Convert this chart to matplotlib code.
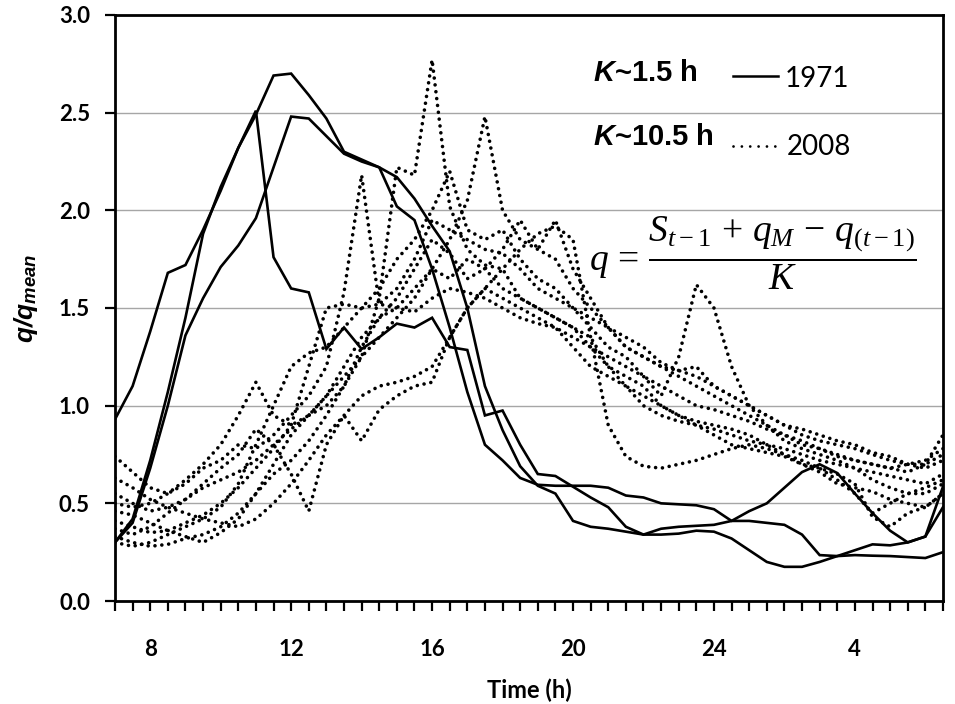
import numpy as np
import matplotlib
matplotlib.use("Agg")
import matplotlib.pyplot as plt
from matplotlib.lines import Line2D

plt.rcParams["mathtext.fontset"] = "custom"
plt.rcParams["mathtext.rm"] = "Liberation Serif"
plt.rcParams["mathtext.it"] = "Liberation Serif:italic"
plt.rcParams["mathtext.bfit"] = "Liberation Sans:italic:bold"

# half-hourly steps from 7:00 to 6:30 the next morning
hours = np.arange(7.0, 31.0, 0.5)
tick_hours = [8, 12, 16, 20, 24, 28]
tick_names = ["8", "12", "16", "20", "24", "4"]
y_ticks = [0.0, 0.5, 1.0, 1.5, 2.0, 2.5, 3.0]

# 1971 event hydrographs (K ~ 1.5 h)
q1971_a = [0.93, 1.10, 1.38, 1.68, 1.72, 1.90, 2.10, 2.32, 2.51, 1.76,
           1.60, 1.58, 1.29, 1.40, 1.29, 1.35, 1.42, 1.40, 1.45, 1.30,
           1.285, 0.95, 0.975, 0.80, 0.65, 0.64, 0.585, 0.53, 0.48, 0.38,
           0.34, 0.37, 0.38, 0.385, 0.39, 0.41, 0.46, 0.50, 0.58, 0.66,
           0.70, 0.655, 0.55, 0.45, 0.36, 0.30, 0.33, 0.585]
q1971_b = [0.30, 0.42, 0.72, 1.07, 1.45, 1.88, 2.12, 2.32, 2.49, 2.69,
           2.70, 2.59, 2.47, 2.30, 2.26, 2.22, 2.02, 1.95, 1.70, 1.40,
           1.07, 0.80, 0.72, 0.63, 0.595, 0.59, 0.59, 0.59, 0.58, 0.54,
           0.53, 0.50, 0.495, 0.49, 0.47, 0.41, 0.41, 0.40, 0.39, 0.34,
           0.235, 0.23, 0.235, 0.232, 0.23, 0.225, 0.22, 0.25]
q1971_c = [0.30, 0.40, 0.68, 1.00, 1.36, 1.55, 1.71, 1.82, 1.96, 2.22,
           2.48, 2.47, 2.38, 2.29, 2.25, 2.22, 2.17, 2.06, 1.92, 1.79,
           1.50, 1.10, 0.875, 0.69, 0.59, 0.55, 0.41, 0.38, 0.37, 0.355,
           0.34, 0.34, 0.345, 0.36, 0.355, 0.32, 0.26, 0.20, 0.175, 0.175,
           0.20, 0.23, 0.26, 0.29, 0.285, 0.30, 0.33, 0.48]

# 2008 event hydrographs (K ~ 10.5 h)
q2008_1 = [0.46, 0.44, 0.40, 0.36, 0.33, 0.30, 0.35, 0.42, 0.55, 0.70,
           0.85, 0.95, 1.00, 1.10, 1.25, 1.55, 2.22, 2.18, 2.77, 2.02,
           1.80, 1.72, 1.70, 1.55, 1.50, 1.45, 1.40, 1.30, 1.20, 1.10,
           1.05, 1.00, 0.95, 0.90, 0.88, 0.85, 0.82, 0.80, 0.78, 0.75,
           0.72, 0.70, 0.68, 0.66, 0.64, 0.62, 0.60, 0.65]
q2008_2 = [0.74, 0.66, 0.58, 0.55, 0.60, 0.68, 0.72, 0.80, 0.78, 0.85,
           0.95, 1.05, 1.20, 1.58, 2.18, 1.52, 1.60, 1.75, 1.95, 1.90,
           1.85, 1.80, 1.78, 1.70, 1.60, 1.55, 1.50, 1.45, 1.40, 1.30,
           1.25, 1.20, 1.15, 1.10, 1.05, 1.00, 0.95, 0.90, 0.85, 0.82,
           0.78, 0.74, 0.72, 0.70, 0.68, 0.70, 0.72, 0.78]
q2008_3 = [0.55, 0.50, 0.46, 0.48, 0.52, 0.58, 0.62, 0.66, 0.72, 0.80,
           0.88, 0.95, 1.05, 1.15, 1.25, 1.35, 1.45, 1.55, 1.70, 1.85,
           2.05, 2.48, 2.00, 1.85, 1.80, 1.75, 1.60, 1.50, 1.40, 1.30,
           1.25, 1.20, 1.18, 1.15, 1.10, 1.05, 1.00, 0.95, 0.90, 0.85,
           0.82, 0.80, 0.78, 0.75, 0.72, 0.70, 0.70, 0.75]
q2008_4 = [0.33, 0.30, 0.28, 0.29, 0.32, 0.34, 0.38, 0.45, 0.55, 0.65,
           0.72, 0.82, 0.95, 1.10, 1.30, 1.45, 1.55, 1.70, 1.85, 1.78,
           1.65, 1.70, 1.80, 1.95, 1.80, 1.95, 1.70, 1.55, 1.40, 1.35,
           1.30, 1.22, 1.18, 1.20, 1.10, 1.05, 1.00, 0.95, 0.90, 0.88,
           0.85, 0.82, 0.80, 0.76, 0.74, 0.70, 0.68, 0.72]
q2008_5 = [0.41, 0.38, 0.35, 0.36, 0.40, 0.44, 0.50, 0.58, 0.68, 0.78,
           0.90, 1.20, 1.50, 1.52, 1.50, 1.52, 1.50, 1.48, 1.55, 1.60,
           1.58, 1.55, 1.50, 1.45, 1.42, 1.40, 1.35, 1.30, 1.25, 1.20,
           1.15, 1.05, 1.25, 1.62, 1.50, 1.20, 1.00, 0.90, 0.82, 0.78,
           0.75, 0.72, 0.68, 0.62, 0.58, 0.55, 0.55, 0.60]
q2008_6 = [0.63, 0.58, 0.52, 0.48, 0.45, 0.42, 0.40, 0.38, 0.42, 0.50,
           0.60, 0.72, 0.85, 0.95, 1.05, 1.10, 1.12, 1.15, 1.20, 1.35,
           1.50, 1.60, 1.70, 1.80, 1.88, 1.92, 1.85, 1.35, 0.90, 0.74,
           0.69, 0.68, 0.70, 0.72, 0.75, 0.78, 0.80, 0.78, 0.75, 0.72,
           0.68, 0.62, 0.55, 0.45, 0.50, 0.55, 0.58, 0.62]
q2008_7 = [0.50, 0.48, 0.50, 0.55, 0.62, 0.70, 0.80, 0.95, 1.12, 0.95,
           0.90, 0.95, 1.05, 1.20, 1.35, 1.45, 1.50, 1.60, 1.70, 1.65,
           1.75, 1.70, 1.60, 1.55, 1.50, 1.45, 1.40, 1.35, 1.20, 1.15,
           1.10, 1.00, 0.95, 0.92, 0.90, 0.88, 0.85, 0.80, 0.75, 0.70,
           0.66, 0.60, 0.58, 0.56, 0.52, 0.50, 0.48, 0.55]
q2008_8 = [0.37, 0.34, 0.38, 0.45, 0.52, 0.60, 0.68, 0.75, 0.88, 0.80,
           0.65, 0.46, 0.80, 0.95, 0.82, 0.98, 1.05, 1.10, 1.12, 1.35,
           1.50, 1.60, 1.55, 1.50, 1.45, 1.40, 1.30, 1.20, 1.15, 1.10,
           1.00, 0.95, 0.92, 0.90, 0.85, 0.80, 0.78, 0.76, 0.74, 0.70,
           0.68, 0.65, 0.60, 0.43, 0.38, 0.45, 0.48, 0.55]
q2008_9 = [0.30, 0.28, 0.30, 0.34, 0.38, 0.42, 0.48, 0.60, 0.80, 1.00,
           1.20, 1.27, 1.30, 1.40, 1.50, 1.60, 1.75, 1.85, 2.00, 2.20,
           1.90, 1.85, 1.90, 1.75, 1.65, 1.60, 1.50, 1.40, 1.30, 1.25,
           1.15, 1.10, 1.05, 1.00, 0.98, 0.95, 0.92, 0.88, 0.85, 0.80,
           0.78, 0.75, 0.72, 0.70, 0.68, 0.66, 0.70, 0.85]

runs_1971 = [q1971_a, q1971_b, q1971_c]
runs_2008 = [q2008_1, q2008_2, q2008_3, q2008_4, q2008_5,
             q2008_6, q2008_7, q2008_8, q2008_9]

tick_font = dict(family="Lato", weight="bold", size=16)
dotted = (0, (0.01, 1.9))

fig = plt.figure(figsize=(9.55, 7.04), dpi=100)
ax = fig.add_axes([0.1204, 0.1463, 0.8670, 0.8324])

ax.yaxis.grid(True, color="#a6a6a6", linewidth=1.0)
ax.set_axisbelow(True)

for q in runs_2008:
    ax.plot(hours, q, color="black", linewidth=2.6, linestyle=dotted,
            dash_capstyle="round")
for q in runs_1971:
    ax.plot(hours, q, color="black", linewidth=1.9, solid_joinstyle="miter")

ax.set_xlim(7.0, 30.5)
ax.set_ylim(0, 3.0)

ax.set_xticks(hours, minor=True)
ax.set_xticks(tick_hours)
ax.set_xticklabels(tick_names, **tick_font)
ax.tick_params(axis="x", which="both", direction="out", length=7, width=1.6,
               pad=20)
ax.set_yticks(y_ticks)
ax.set_yticklabels([f"{v:.1f}" for v in y_ticks], **tick_font)
ax.tick_params(axis="y", direction="out", length=7, width=1.6, pad=11)

for side in ["left", "right", "top", "bottom"]:
    ax.spines[side].set_linewidth(2.0)
    ax.spines[side].set_color("black")

ax.set_xlabel("Time (h)", family="Lato", weight="bold", size=17)
ax.xaxis.set_label_coords(0.5, -0.132)
ax.set_ylabel(r"$\mathbfit{q/q}_{\mathbfit{mean}}$", size=19)
ax.yaxis.set_label_coords(-0.091, 0.517)

# key: storage constant and line style for each year
key_font = dict(family="Liberation Sans", weight="bold", size=21)
ax.text(0.577, 0.887, r"$\mathbfit{K}$~1.5 h", transform=ax.transAxes,
        va="baseline", **key_font)
ax.text(0.577, 0.778, r"$\mathbfit{K}$~10.5 h", transform=ax.transAxes,
        va="baseline", **key_font)
ax.add_line(Line2D([0.746, 0.801], [0.896, 0.896], transform=ax.transAxes,
                   color="black", linewidth=1.8))
ax.add_line(Line2D([0.747, 0.797], [0.776, 0.776], transform=ax.transAxes,
                   color="black", linewidth=2.0, linestyle=(0, (0.01, 3.0)),
                   dash_capstyle="round"))
ax.text(0.809, 0.877, "1971", transform=ax.transAxes, va="baseline",
        family="Lato", size=20)
ax.text(0.811, 0.761, "2008", transform=ax.transAxes, va="baseline",
        family="Lato", size=20)

ax.text(0.573, 0.593,
        r"$q\,=\,\dfrac{S_{t-1}\,+\,q_M\,-\,q_{(t-1)}}{K}$",
        transform=ax.transAxes, va="center", ha="left", size=27)

fig.savefig("out.png", dpi=100)
